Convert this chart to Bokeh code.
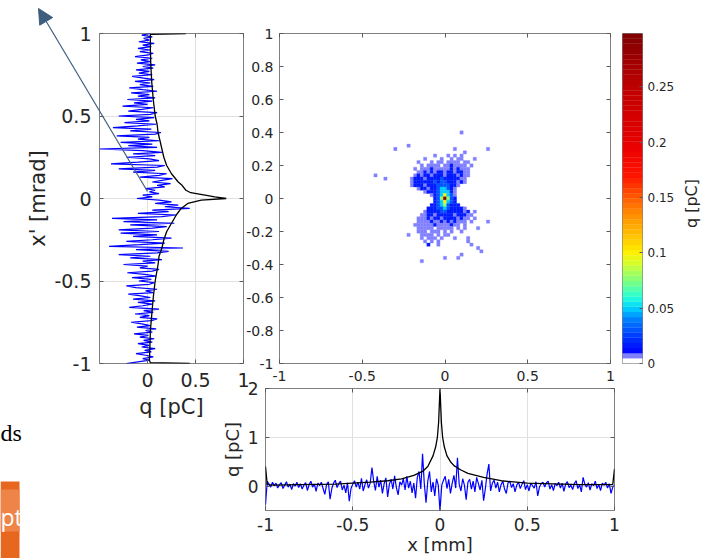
import numpy as np
from bokeh.plotting import figure
from bokeh.layouts import column, row
from bokeh.models import (Range1d, LinearAxis, FixedTicker, CustomJSTickFormatter, Grid,
                          ColumnDataSource, LinearColorMapper, Arrow, NormalHead, Label)
from bokeh.embed import file_html
from bokeh.resources import INLINE

# ---------------- data ----------------
# x' profile (left panel): blue = noisy series (x' from -1 to 1), black = profile
XP_BLUE_Q = [-0.22, -0.10, 0.02, -0.05, 0.06, -0.02, -0.12, 0.04, -0.03, 0.08,
             -0.06, 0.02, -0.10, 0.05, -0.04, 0.07, -0.08, 0.01, -0.14, 0.05,
             -0.02, 0.09, -0.11, 0.03, -0.06, -0.17, 0.04, 0.10, -0.08, 0.02,
             -0.13, 0.06, -0.04, 0.12, -0.19, -0.05, 0.05, -0.10, 0.08, -0.15,
             0.03, -0.07, -0.20, 0.06, -0.02, 0.10, -0.12, -0.22, 0.02, 0.07,
             -0.09, 0.04, -0.16, 0.09, -0.03, -0.21, 0.05, 0.12, -0.08, 0.00,
             -0.25, 0.08, -0.05, 0.15, -0.18, 0.03, -0.30, 0.10, 0.22, -0.12,
             0.37, -0.40, -0.08, 0.18, -0.22, 0.05, 0.25, -0.15, 0.10, -0.28,
             0.12, -0.30, 0.05, 0.20, -0.18, 0.28, -0.25, 0.10, -0.37, 0.15,
             0.30, -0.10, 0.22, 0.05, 0.44, 0.18, 0.32, 0.08, 0.25, 0.12,
             -0.11, 0.05, -0.05, 0.12, 0.02, 0.08, -0.02, 0.18, 0.10, 0.24,
             0.05, 0.15, 0.26, -0.08, 0.12, 0.20, -0.15, 0.08, -0.30, 0.10,
             0.18, -0.38, -0.10, 0.12, 0.02, -0.22, 0.08, -0.15, 0.15, -0.05,
             -0.50, 0.10, -0.20, 0.05, -0.28, 0.12, -0.10, 0.02, -0.32, 0.08,
             0.14, -0.18, 0.04, -0.36, -0.10, 0.09, -0.24, 0.02, -0.12, 0.07,
             -0.30, 0.03, 0.10, -0.20, -0.06, 0.06, -0.26, 0.00, -0.14, 0.05,
             -0.21, 0.08, -0.10, 0.02, -0.17, 0.10, -0.05, -0.19, 0.06, -0.08,
             0.03, -0.13, 0.07, -0.04, -0.16, 0.05, -0.09, 0.02, -0.12, 0.06,
             -0.05, 0.08, -0.11, 0.03, -0.07, 0.05, -0.13, 0.01, 0.06, -0.08,
             0.03, -0.10, 0.04, -0.05, 0.07, -0.09, 0.02, -0.04, 0.05, -0.06,
             0.03]
XP_BLUE_POS = np.linspace(-1, 1, len(XP_BLUE_Q))
XP_BLACK_POS = [-1.0, -0.995, -0.98, -0.9, -0.8, -0.7, -0.6, -0.5, -0.45, -0.4, -0.35, -0.3,
                -0.25, -0.2, -0.15, -0.1, -0.06, -0.03, -0.01, 0.0, 0.01, 0.02, 0.035, 0.05,
                0.08, 0.1, 0.15, 0.2, 0.25, 0.3, 0.35, 0.4, 0.45, 0.5, 0.6, 0.7, 0.8, 0.9,
                0.98, 0.995, 1.0]
XP_BLACK_Q = [0.44, 0.03, 0.02, 0.025, 0.03, 0.045, 0.06, 0.08, 0.095, 0.11, 0.12, 0.15,
              0.17, 0.2, 0.25, 0.3, 0.35, 0.42, 0.56, 0.82, 0.7, 0.6, 0.45, 0.4,
              0.36, 0.32, 0.25, 0.2, 0.17, 0.15, 0.13, 0.11, 0.1, 0.08, 0.06, 0.045, 0.035, 0.03,
              0.03, 0.03, 0.40]

# x profile (bottom panel): blue = noisy series (x from -1 to 1), black = profile
X_BLUE_Q = [-0.38, 0.10, 0.04, -0.02, 0.08, 0.01, 0.06, -0.04, 0.03, 0.07,
            -0.05, 0.02, 0.09, -0.02, 0.04, -0.07, 0.05, 0.00, 0.08, -0.03,
            0.05, -0.06, 0.02, 0.07, -0.09, 0.03, 0.10, -0.02, 0.04, -0.11,
            0.06, 0.01, 0.08, -0.05, -0.17, 0.03, 0.09, -0.27, -0.05, 0.06,
            0.12, -0.03, 0.05, 0.10, -0.08, 0.02, -0.14, 0.07, -0.31, -0.05,
            0.04, 0.11, -0.02, 0.08, -0.06, 0.16, -0.10, 0.03, 0.13, -0.04,
            0.06, 0.38, 0.10, -0.09, 0.20, -0.02, 0.12, -0.15, 0.05, 0.17,
            -0.22, 0.04, 0.14, -0.06, 0.21, -0.03, -0.18, 0.09, 0.02, 0.15,
            -0.08, 0.20, -0.04, 0.10, -0.14, 0.06, -0.25, 0.18, 0.30, -0.06,
            0.66, 0.05, -0.34, 0.10, 0.30, -0.12, 0.08, -0.20, 0.15, 0.02,
            -0.51, 0.02, 0.12, 0.20, -0.05, 0.14, -0.15, 0.06, 0.22, -0.04,
            0.58, 0.04, -0.10, 0.15, 0.02, -0.28, 0.08, 0.14, -0.06, 0.10,
            -0.12, 0.18, 0.05, -0.08, 0.12, -0.30, -0.05, 0.25, 0.45, -0.10,
            0.06, 0.12, -0.04, 0.08, -0.12, 0.03, 0.10, -0.06, -0.15, 0.07,
            0.10, -0.03, 0.05, -0.12, 0.02, 0.08, -0.05, 0.04, 0.11, -0.07,
            0.03, -0.10, 0.06, 0.01, -0.04, 0.09, -0.20, -0.02, 0.05, 0.08,
            -0.02, 0.07, 0.10, -0.06, 0.03, -0.09, 0.05, 0.01, 0.08, -0.04,
            0.06, -0.11, 0.04, 0.09, -0.03, 0.02, -0.07, 0.05, 0.11, -0.05,
            0.03, -0.12, 0.18, 0.04, -0.02, 0.07, -0.08, 0.05, 0.01, 0.10,
            -0.05, 0.03, -0.09, 0.06, 0.02, 0.08, -0.04, 0.05, -0.15, -0.02,
            0.02]
X_BLUE_POS = np.linspace(-1, 1, len(X_BLUE_Q))
X_BLACK_POS = [-1.0, -0.99, -0.95, -0.8, -0.6, -0.5, -0.4, -0.3, -0.22, -0.15, -0.1, -0.07,
               -0.04, -0.025, -0.015, -0.008, 0.0, 0.008, 0.015, 0.025, 0.04, 0.06, 0.08,
               0.12, 0.16, 0.25, 0.35, 0.5, 0.6, 0.8, 0.95, 0.99, 1.0]
X_BLACK_Q = [0.40, 0.03, 0.02, 0.03, 0.04, 0.06, 0.08, 0.11, 0.15, 0.22, 0.30, 0.40,
             0.62, 0.80, 1.00, 1.30, 2.00, 1.30, 1.00, 0.80, 0.62, 0.50, 0.42,
             0.33, 0.26, 0.18, 0.11, 0.06, 0.05, 0.03, 0.03, 0.03, 0.35]

# phase-space density (main panel): one character per cell, row 0 at the top
HEAT_X0, HEAT_Y0, CELL = -0.42, 0.40, 0.02
HEAT_ROWS = [
    "..........................l..........",
    ".....................................",
    ".....................................",
    ".....................................",
    "..........l..........................",
    "......l.................l.........l..",
    "...........................l.........",
    "..................l...l.l.l..........",
    "...............l....l..l.ll...l......",
    ".............l...l.ll.llll.ll........",
    "..............l.llll.llbllll.l.......",
    "............l.lllblllllblblll........",
    ".............llblblbblbblbbll........",
    "l...........lblbblbbblbbblbll........",
    "...l.......lbbblbbbbBbbbbbll.........",
    "...........lbbbbbbBbBBbbblbl.........",
    "...........lbbblbbbBBBBbbl...........",
    ".............lbblbbBccBbl............",
    "...............lbbbBcccbl............",
    ".................lbBcycBl............",
    "..................bBgRgBb............",
    "..................bBcycBb............",
    ".................bbBcgBbbb...........",
    "................bbbBBcBbbbbl.........",
    "...............lbbbbBBbbbbblb.l......",
    "..............llbblbbbbblbbbll.......",
    ".............lllblbblbbbblbll.l......",
    ".............llllbllblblblll.l....l..",
    "............llllllbllllbll.l.........",
    ".............lllll.lllll.l.l...l.....",
    ".............lll.lll.l.l..l..........",
    "..........l...llll.l.ll..............",
    "..............l.lll.l...l...l........",
    "...............l.l.l........l........",
    "................b..l.........l.......",
    "...............................l.....",
    "................................l....",
    "..........................l..........",
    ".....................l...l...........",
    "..............l......................",
    ".....................................",
]
HEAT_LEVELS = {"l": 0.007, "b": 0.015, "B": 0.03, "c": 0.05, "g": 0.075,
               "y": 0.10, "o": 0.14, "r": 0.19, "R": 0.29}
CMAX = 0.298
CB_TICKS = [0, 0.05, 0.1, 0.15, 0.2, 0.25]

# colour map anchors (value, r, g, b)
CMAP_ANCHORS = [(0.0093, 0, 0, 255), (0.025, 0, 60, 255), (0.040, 0, 130, 255),
                (0.050, 0, 210, 255), (0.060, 40, 255, 215), (0.075, 130, 255, 125),
                (0.090, 210, 255, 45), (0.100, 255, 240, 0), (0.117, 255, 190, 0),
                (0.135, 255, 140, 0), (0.150, 255, 90, 0), (0.170, 255, 20, 0),
                (0.195, 235, 0, 0), (0.250, 190, 0, 0), (0.298, 128, 0, 0)]

# ---------------- styling / geometry ----------------
W, H = 703, 558
FONT = "DejaVu Sans"
TXT = "#262626"
FRAME = "#808080"
TICK = "#5a5a5a"
GRIDC = "#e0e0e0"
FMT_JS = "return String(Math.round(tick*10000)/10000);"

TOP_H = 426      # height of the upper row
B_TOP = 375      # page y where the lower panel's canvas starts

# slide overlay elements (page pixels)
ARROW_PX = dict(x_start=147, y_start=191, x_end=38, y_end=8)
ORANGE_BOX_PX = dict(left=0, right=19, top=481, bottom=558)
ORANGE_BAND_PX = dict(left=0, right=19, top=489, bottom=531)
DS_PX = (0, 432)
PT_PX = (0, 516)
CB_LABEL_PX = (691, 203)

# palette: 64 levels (white, lavender, then jet-like)
anc = np.array(CMAP_ANCHORS, dtype=float)
levels = (np.arange(64) + 0.5) * CMAX / 64
palette = ["#ffffff", "#8080ff"]
for v in levels[2:]:
    r = int(round(np.interp(v, anc[:, 0], anc[:, 1])))
    g = int(round(np.interp(v, anc[:, 0], anc[:, 2])))
    b = int(round(np.interp(v, anc[:, 0], anc[:, 3])))
    palette.append("#%02x%02x%02x" % (r, g, b))
mapper = LinearColorMapper(palette=palette, low=0, high=CMAX)


def make_fig(width, height, left, right, top, bottom, xr, yr):
    p = figure(width=width, height=height, x_range=Range1d(*xr), y_range=Range1d(*yr),
               x_axis_type=None, y_axis_type=None, output_backend="svg",
               toolbar_location=None, min_border_left=left, min_border_right=right,
               min_border_top=top, min_border_bottom=bottom)
    p.border_fill_color = None
    p.background_fill_color = "white"
    p.outline_line_color = FRAME
    p.outline_line_width = 1
    return p


def add_axis(p, side, ticks, size=12, label=None, label_size=None, standoff=6,
             label_standoff=4, show=True, tick_in=4):
    ax = LinearAxis(ticker=FixedTicker(ticks=ticks),
                    formatter=CustomJSTickFormatter(code=FMT_JS))
    ax.axis_line_color = None
    ax.major_tick_in = tick_in
    ax.major_tick_out = 0
    ax.major_tick_line_color = TICK
    ax.minor_tick_line_color = None
    ax.major_label_text_font = FONT
    if show:
        ax.major_label_standoff = standoff
        ax.major_label_text_font_size = f"{size}px"
        ax.major_label_text_color = TXT
    else:
        ax.major_label_standoff = 0
        ax.major_label_text_font_size = "0px"
        ax.major_label_text_color = None
    if label:
        ax.axis_label = label
        ax.axis_label_text_font = FONT
        ax.axis_label_text_font_size = f"{label_size}px"
        ax.axis_label_text_font_style = "normal"
        ax.axis_label_text_color = TXT
        ax.axis_label_standoff = label_standoff
    p.add_layout(ax, side)


def add_grid(p, dim, ticks):
    p.add_layout(Grid(dimension=dim, ticker=FixedTicker(ticks=ticks),
                      grid_line_color=GRIDC, grid_line_width=1))


# ---------------- left panel: x' profile ----------------
pL = make_fig(258, TOP_H, 99, 15, 33, TOP_H - 363, (-0.5, 1.0), (-1, 1))
add_grid(pL, 0, [0, 0.5])
add_grid(pL, 1, [-0.5, 0, 0.5])
add_axis(pL, "below", [0, 0.5, 1], size=19, label="q [pC]", label_size=21, standoff=9, label_standoff=5)
add_axis(pL, "left", [-1, -0.5, 0, 0.5, 1], size=19, label="x' [mrad]", label_size=21, standoff=8, label_standoff=1)
add_axis(pL, "above", [0, 0.5, 1], show=False)
add_axis(pL, "right", [-1, -0.5, 0, 0.5, 1], show=False)
pL.line(XP_BLUE_Q, XP_BLUE_POS, line_color="#0000ff", line_width=1.2)
pL.line(XP_BLACK_Q, XP_BLACK_POS, line_color="black", line_width=1.3)

# ---------------- main panel: density map ----------------
pM = make_fig(375, TOP_H, 39, 5, 33, TOP_H - 363, (-1, 1), (-1, 1))
pM.margin = (0, 0, 0, -18)
hx, hy, hv = [], [], []
for r, rowtxt in enumerate(HEAT_ROWS):
    for i, ch in enumerate(rowtxt):
        if ch in HEAT_LEVELS:
            hx.append(HEAT_X0 + i * CELL)
            hy.append(HEAT_Y0 - r * CELL)
            hv.append(HEAT_LEVELS[ch])
src = ColumnDataSource(dict(x=hx, y=hy, v=hv))
pM.rect(x="x", y="y", width=CELL, height=CELL, source=src,
        fill_color={"field": "v", "transform": mapper},
        line_color={"field": "v", "transform": mapper}, line_width=0.3)
MAIN_Y_TICKS = [-1, -0.8, -0.6, -0.4, -0.2, 0, 0.2, 0.4, 0.6, 0.8, 1]
MAIN_X_TICKS = [-1, -0.5, 0, 0.5, 1]
add_axis(pM, "below", MAIN_X_TICKS, size=14, standoff=7)
add_axis(pM, "left", MAIN_Y_TICKS, size=14, standoff=6)
add_axis(pM, "above", MAIN_X_TICKS, show=False)
add_axis(pM, "right", MAIN_Y_TICKS, show=False)

# ---------------- colour bar ----------------
pC = make_fig(88, TOP_H, 7, 61, 33, TOP_H - 363, (0, 1), (0, CMAX))
edges = np.linspace(0, CMAX, 65)
pC.quad(left=0, right=1, bottom=edges[:-1], top=edges[1:], fill_color=palette,
        line_color=palette, line_width=0.3)
add_axis(pC, "right", CB_TICKS, size=12, standoff=5, tick_in=3)

# ---------------- bottom panel: x profile ----------------
pB = make_fig(W, H - B_TOP, 265, 89, 388 - B_TOP, 48, (-1, 1), (-0.5, 2))
pB.margin = (B_TOP - TOP_H, 0, 0, 0)
add_grid(pB, 0, [-0.5, 0, 0.5])
add_grid(pB, 1, [0, 1])
add_axis(pB, "below", [-1, -0.5, 0, 0.5, 1], size=17, label="x [mm]", label_size=18, standoff=7, label_standoff=0)
add_axis(pB, "left", [0, 1, 2], size=17, label="q [pC]", label_size=18, standoff=7, label_standoff=2)
add_axis(pB, "above", [-1, -0.5, 0, 0.5, 1], show=False)
add_axis(pB, "right", [0, 1, 2], show=False)
pB.line(X_BLUE_POS, X_BLUE_Q, line_color="#0000ff", line_width=1.2)
pB.line(X_BLACK_POS, X_BLACK_Q, line_color="black", line_width=1.3)

# ---------------- overlay in page pixels (slide fragments, colour-bar title) ----------------
pO = figure(width=W, height=H, x_range=Range1d(0, W), y_range=Range1d(H, 0),
            x_axis_type=None, y_axis_type=None, output_backend="svg",
            toolbar_location=None, min_border=0)
pO.border_fill_color = None
pO.background_fill_color = None
pO.outline_line_color = None
pO.quad(**ORANGE_BOX_PX, fill_color="#e8671f", line_color=None)
pO.quad(**ORANGE_BAND_PX, fill_color="#ee8447", line_color=None)
pO.add_layout(Label(x=PT_PX[0], y=PT_PX[1], text="pt", text_align="left",
                    text_baseline="alphabetic", text_font="Open Sans",
                    text_font_size="23px", text_color="white"))
pO.add_layout(Label(x=DS_PX[0], y=DS_PX[1], text="ds", text_align="left",
                    text_baseline="alphabetic", text_font="Liberation Serif",
                    text_font_size="24px", text_color="black"))
pO.add_layout(Label(x=CB_LABEL_PX[0], y=CB_LABEL_PX[1], text="q [pC]", angle=np.pi / 2,
                    text_align="center", text_baseline="middle", text_font=FONT,
                    text_font_size="16px", text_color=TXT))
ARROW_COLOR = "#3f5d7d"
pO.add_layout(Arrow(end=NormalHead(size=15, fill_color=ARROW_COLOR, line_color=ARROW_COLOR),
                    line_color=ARROW_COLOR, line_width=1.2, **ARROW_PX))
overlay_row = row(pO, spacing=0)
overlay_row.margin = (-H, 0, 0, 0)

top_row = row(pL, pM, pC, spacing=0)
layout = column(top_row, pB, overlay_row, spacing=0)

open("out.html", "w").write(file_html(layout, INLINE))
